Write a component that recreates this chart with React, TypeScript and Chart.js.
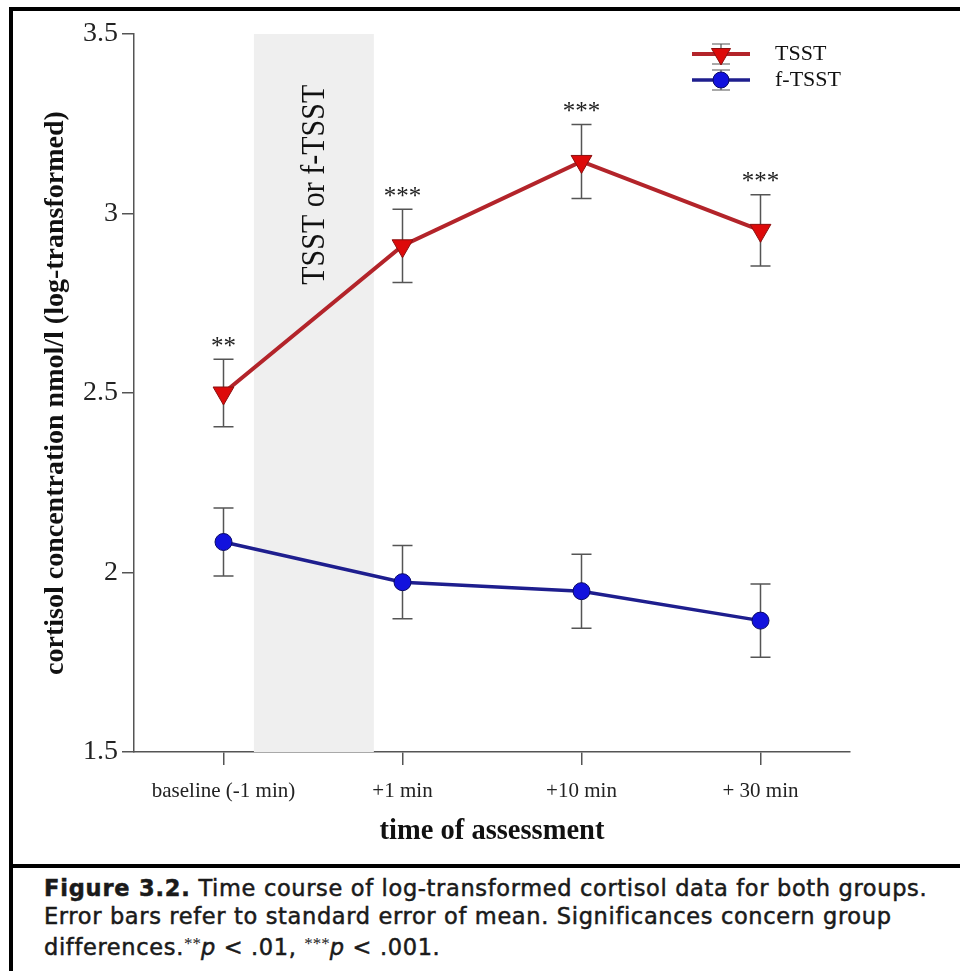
import React, { useEffect, useRef } from "react";
import { Chart, registerables } from "chart.js";

Chart.register(...registerables);

const categories = ["baseline (-1 min)", "+1 min", "+10 min", "+ 30 min"];
const tsstMean = [2.5, 2.91, 3.145, 2.953];
const tsstSE = [0.094, 0.102, 0.103, 0.099];
const ftsstMean = [2.085, 1.973, 1.948, 1.866];
const ftsstSE = [0.095, 0.102, 0.103, 0.102];
const significance = ["**", "***", "***", "***"];
const yTicks = [1.5, 2, 2.5, 3, 3.5];
const stressWindow = [0.17, 0.84]; // in category units
const stressLabel = "TSST or f-TSST";

const SERIF = "'Liberation Serif', 'Times New Roman', serif";
const RED_LINE = "#b3242a";
const RED_FILL = "#dd0a0a";
const BLUE_LINE = "#1e1e8e";
const BLUE_FILL = "#1212dd";
const BAR_COLOR = "#555";

const overlayPlugin = {
  id: "overlay",
  beforeDatasetsDraw(chart: any) {
    const { ctx, scales } = chart;
    const x = scales.x;
    const y = scales.y;
    const x0 = x.getPixelForValue(stressWindow[0]);
    const x1 = x.getPixelForValue(stressWindow[1]);
    const yTop = y.getPixelForValue(yTicks[yTicks.length - 1]);
    const yBot = y.getPixelForValue(yTicks[0]);
    ctx.save();
    ctx.fillStyle = "#efefef";
    ctx.fillRect(x0, yTop, x1 - x0, yBot - yTop);
    // rotated label
    ctx.translate(x.getPixelForValue(0.51), y.getPixelForValue(3.08));
    ctx.rotate(-Math.PI / 2);
    ctx.scale(1, 1.12);
    ctx.fillStyle = "#111";
    ctx.font = `30px ${SERIF}`;
    ctx.textAlign = "center";
    ctx.textBaseline = "middle";
    ctx.fillText(stressLabel, 0, 0);
    ctx.restore();

    // error bars
    ctx.save();
    ctx.strokeStyle = BAR_COLOR;
    ctx.lineWidth = 1.5;
    const drawBars = (means: number[], ses: number[]) => {
      means.forEach((m, i) => {
        const px = x.getPixelForValue(i);
        const top = y.getPixelForValue(m + ses[i]);
        const bot = y.getPixelForValue(m - ses[i]);
        ctx.beginPath();
        ctx.moveTo(px, top);
        ctx.lineTo(px, bot);
        ctx.moveTo(px - 10, top);
        ctx.lineTo(px + 10, top);
        ctx.moveTo(px - 10, bot);
        ctx.lineTo(px + 10, bot);
        ctx.stroke();
      });
    };
    drawBars(tsstMean, tsstSE);
    drawBars(ftsstMean, ftsstSE);
    ctx.restore();
  },
  afterDatasetsDraw(chart: any) {
    const { ctx, scales } = chart;
    const x = scales.x;
    const y = scales.y;
    ctx.save();
    ctx.fillStyle = "#222";
    ctx.font = `25px ${SERIF}`;
    ctx.textAlign = "center";
    ctx.textBaseline = "middle";
    significance.forEach((s, i) => {
      const px = x.getPixelForValue(i);
      const top = y.getPixelForValue(tsstMean[i] + tsstSE[i]);
      ctx.fillText(s, px, top - 12);
    });
    ctx.restore();

    // legend
    ctx.save();
    const lx0 = 692;
    const lx1 = 750;
    const mx = 721;
    const rows = [
      { y: 54, color: RED_LINE, fill: RED_FILL, w: 4, label: "TSST", tri: true },
      { y: 80, color: BLUE_LINE, fill: BLUE_FILL, w: 3.5, label: "f-TSST", tri: false },
    ];
    rows.forEach((r) => {
      ctx.strokeStyle = BAR_COLOR;
      ctx.lineWidth = 1.2;
      ctx.beginPath();
      ctx.moveTo(mx, r.y - 10);
      ctx.lineTo(mx, r.y + 10);
      ctx.moveTo(mx - 9, r.y - 10);
      ctx.lineTo(mx + 9, r.y - 10);
      ctx.moveTo(mx - 9, r.y + 10);
      ctx.lineTo(mx + 9, r.y + 10);
      ctx.stroke();
      ctx.strokeStyle = r.color;
      ctx.lineWidth = r.w;
      ctx.beginPath();
      ctx.moveTo(lx0, r.y);
      ctx.lineTo(lx1, r.y);
      ctx.stroke();
      ctx.fillStyle = r.fill;
      ctx.lineWidth = 1;
      ctx.strokeStyle = r.tri ? "#8a1010" : "#0a0a66";
      ctx.beginPath();
      if (r.tri) {
        const rad = 11;
        ctx.moveTo(mx - rad * 0.866, r.y - rad * 0.5);
        ctx.lineTo(mx + rad * 0.866, r.y - rad * 0.5);
        ctx.lineTo(mx, r.y + rad);
        ctx.closePath();
      } else {
        ctx.arc(mx, r.y, 8, 0, Math.PI * 2);
      }
      ctx.fill();
      ctx.stroke();
      ctx.fillStyle = "#111";
      ctx.font = `22px ${SERIF}`;
      ctx.textAlign = "left";
      ctx.textBaseline = "middle";
      ctx.fillText(r.label, 775, r.y);
    });
    ctx.restore();
  },
};

export default function App() {
  const ref = useRef<HTMLCanvasElement>(null);
  useEffect(() => {
    const chart = new Chart(ref.current as HTMLCanvasElement, {
      type: "line",
      data: {
        labels: categories,
        datasets: [
          {
            label: "TSST",
            data: tsstMean,
            borderColor: RED_LINE,
            borderWidth: 4,
            pointStyle: "triangle",
            pointRotation: 180,
            pointRadius: 12,
            pointBackgroundColor: RED_FILL,
            pointBorderColor: "#8a1010",
            pointBorderWidth: 1,
            tension: 0,
          },
          {
            label: "f-TSST",
            data: ftsstMean,
            borderColor: BLUE_LINE,
            borderWidth: 3.5,
            pointStyle: "circle",
            pointRadius: 8.5,
            pointBackgroundColor: BLUE_FILL,
            pointBorderColor: "#0a0a66",
            pointBorderWidth: 1,
            tension: 0,
          },
        ],
      },
      options: {
        responsive: false,
        animation: false,
        events: [],
        layout: { padding: { left: 0, top: 34, right: 110, bottom: 0 } },
        plugins: {
          legend: { display: false },
          tooltip: { enabled: false },
        },
        scales: {
          x: {
            type: "category",
            offset: true,
            grid: {
              display: true,
              drawOnChartArea: false,
              tickLength: 13,
              color: BAR_COLOR,
              lineWidth: 1.5,
            },
            border: { color: BAR_COLOR, width: 1.5 },
            ticks: {
              font: { family: SERIF, size: 21 },
              color: "#222",
              padding: 14,
              maxRotation: 0,
              autoSkip: false,
            },
            title: {
              display: true,
              text: "time of assessment",
              font: { family: SERIF, size: 28.5, weight: "bold" },
              color: "#111",
              padding: { top: 0, bottom: 13 },
            },
            afterFit: (s: any) => {
              s.height = 110;
            },
          },
          y: {
            min: yTicks[0],
            max: yTicks[yTicks.length - 1],
            afterBuildTicks: (s: any) => {
              s.ticks = yTicks.map((v) => ({ value: v }));
            },
            grid: {
              display: true,
              drawOnChartArea: false,
              tickLength: 12,
              color: BAR_COLOR,
              lineWidth: 1.5,
            },
            border: { color: BAR_COLOR, width: 1.5 },
            ticks: {
              font: { family: SERIF, size: 28 },
              color: "#222",
              padding: 4,
              callback: (v: any) => String(v),
            },
            title: {
              display: true,
              text: "cortisol concentration nmol/l (log-transformed)",
              font: { family: SERIF, size: 28, weight: "bold" },
              color: "#111",
              padding: { top: 39, bottom: 0 },
            },
            afterFit: (s: any) => {
              s.width = 134;
            },
          },
        },
      },
      plugins: [overlayPlugin],
    } as any);
    return () => chart.destroy();
  }, []);

  const sup = {
    fontFamily: SERIF,
    fontSize: 17,
    verticalAlign: "6px",
    WebkitTextStroke: "0px",
    letterSpacing: 0,
  } as React.CSSProperties;

  return (
    <div
      style={{
        position: "absolute",
        left: 0,
        top: 0,
        width: 960,
        height: 971,
        background: "#fff",
        overflow: "hidden",
      }}
    >
      <canvas
        ref={ref}
        width={960}
        height={862}
        style={{ position: "absolute", left: 0, top: 0, width: 960, height: 862 }}
      />
      <div style={{ position: "absolute", left: 9, top: 7, width: 951, height: 4, background: "#000" }} />
      <div style={{ position: "absolute", left: 9, top: 7, width: 4, height: 964, background: "#000" }} />
      <div style={{ position: "absolute", left: 9, top: 864, width: 951, height: 4, background: "#000" }} />
      <div
        style={{
          position: "absolute",
          left: 44,
          top: 875,
          fontFamily: "'DejaVu Sans', Verdana, sans-serif",
          fontSize: 22.5,
          letterSpacing: 0.65,
          lineHeight: "27.5px",
          color: "#1a1a1a",
          WebkitTextStroke: "0.5px #1a1a1a",
          whiteSpace: "nowrap",
        }}
      >
        <span style={{ fontWeight: "bold", letterSpacing: 0.8 }}>Figure 3.2.</span> Time course of log-transformed cortisol data for both groups.
        <br />
        Error bars refer to standard error of mean. Significances concern group
        <br />
        differences.
        <span style={sup}>**</span>
        <i>p</i> &lt; .01, <span style={sup}>***</span>
        <i>p</i> &lt; .001.
      </div>
    </div>
  );
}
